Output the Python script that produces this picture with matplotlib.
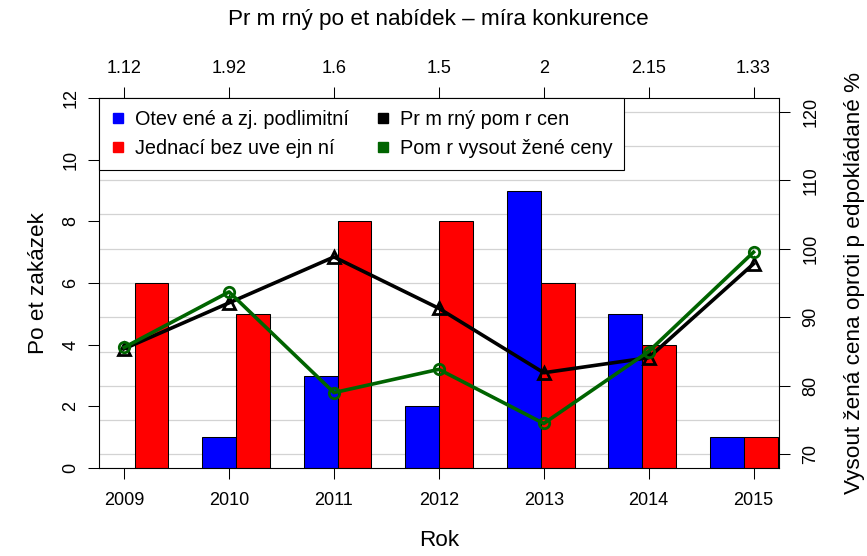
import matplotlib
matplotlib.use('Agg')
import matplotlib.pyplot as plt
from matplotlib.lines import Line2D
import numpy as np

plt.rcParams['font.family'] = ['Liberation Sans', 'DejaVu Sans']

# ---- data ----
years = [2009, 2010, 2011, 2012, 2013, 2014, 2015]
mean_offers = [1.12, 1.92, 1.6, 1.5, 2, 2.15, 1.33]
open_counts = [0, 1, 3, 2, 9, 5, 1]
negotiated_counts = [6, 5, 8, 8, 6, 4, 1]
mean_price_ratio = [85.4, 92.1, 98.8, 91.3, 81.9, 84.1, 97.8]
awarded_price_ratio = [85.6, 93.7, 79.0, 82.4, 74.5, 85.0, 99.5]

series_names = ['Otev ené a zj. podlimitní', 'Jednací bez uve ejn ní',
                'Pr m rný pom r cen', 'Pom r vysout žené ceny']
title_top = 'Pr m rný po et nabídek – míra konkurence'
xlabel = 'Rok'
ylabel_left = 'Po et zakázek'
ylabel_right = 'Vysout žená cena oproti p edpokládané %'

BLUE, RED, BLACK, GREEN = '#0000FF', '#FF0000', '#000000', '#006400'
TICK_FS = 13
LABEL_FS = 16.2
LEGEND_FS = 14.3

W, H = 867, 556
fig = plt.figure(figsize=(W / 100, H / 100), dpi=100)
L, R, T, B = 99, 778.7, 98, 468
rect = [L / W, (H - B) / H, (R - L) / W, (B - T) / H]

# background grid axes (right-axis scale)
ax_grid = fig.add_axes(rect, zorder=0)
ax_grid.set_xlim(0, 1)
ax_grid.set_ylim(68, 122)
for v in np.arange(70, 121, 5):
    ax_grid.axhline(v, color='#d3d3d3', lw=0.9)
ax_grid.axis('off')

# bar axes
ax_bar = fig.add_axes(rect, zorder=1)
ax_bar.patch.set_visible(False)
n = len(years)
idx = np.arange(n)
left_blue = 1 + 3 * idx
ax_bar.bar(left_blue, open_counts, width=1, align='edge', color=BLUE,
           edgecolor='black', linewidth=0.75)
ax_bar.bar(left_blue + 1, negotiated_counts, width=1, align='edge', color=RED,
           edgecolor='black', linewidth=0.75)
ax_bar.set_xlim(0.95, 21.03)
ax_bar.set_ylim(0, 12)
ax_bar.set_xticks([])
ax_bar.set_yticks(range(0, 13, 2))
for lab in ax_bar.get_yticklabels():
    lab.set_rotation(90)
    lab.set_va('center')
ax_bar.tick_params(axis='y', length=8, width=0.75, labelsize=TICK_FS, pad=6)
for s in ax_bar.spines.values():
    s.set_visible(False)
ax_bar.set_ylabel(ylabel_left, fontsize=LABEL_FS)
ax_bar.yaxis.set_label_coords((38 - L) / (R - L), 0.5)
ax_bar.yaxis.label.set_va('center')

# line axes
ax_line = fig.add_axes(rect, zorder=2)
ax_line.patch.set_visible(False)
x = np.arange(1, n + 1)
ax_line.plot(x, mean_price_ratio, color=BLACK, lw=2.6, marker='^', ms=9,
             mfc='none', mew=2)
ax_line.plot(x, awarded_price_ratio, color=GREEN, lw=2.6, marker='o', ms=7.5,
             mfc='none', mew=2)
ax_line.set_xlim(0.76, 7.24)
ax_line.set_ylim(68, 122)
ax_line.yaxis.tick_right()
ax_line.yaxis.set_label_position('right')
ax_line.set_yticks(range(70, 121, 10))
for lab in ax_line.get_yticklabels():
    lab.set_rotation(90)
    lab.set_va('center')
ax_line.set_xticks(x, [str(y) for y in years])
ax_line.tick_params(axis='x', length=8, width=0.75, labelsize=TICK_FS, pad=9)
ax_line.tick_params(axis='y', length=8, width=0.75, labelsize=TICK_FS, pad=9)
for s in ax_line.spines.values():
    s.set_linewidth(0.8)
    s.set_color('black')
ax_line.set_ylabel(ylabel_right, fontsize=LABEL_FS)
ax_line.yaxis.set_label_coords((855 - L) / (R - L), 0.5)
ax_line.yaxis.label.set_va('center')
ax_line.set_xlabel(xlabel, fontsize=LABEL_FS)
ax_line.xaxis.set_label_coords(0.5, (B - 540) / (B - T))
ax_line.xaxis.label.set_va('center')

top = ax_line.secondary_xaxis('top')
top.set_xticks(x, [f'{v:g}' for v in mean_offers])
top.tick_params(length=8, width=0.75, labelsize=TICK_FS, pad=7)
top.spines['top'].set_visible(False)

fig.text((L + R) / 2 / W, 1 - 19 / H, title_top, fontsize=LABEL_FS,
         ha='center', va='center')

handles = [
    Line2D([], [], ls='none', marker='s', ms=6.5, color=BLUE),
    Line2D([], [], ls='none', marker='s', ms=6.5, color=RED),
    Line2D([], [], ls='none', marker='s', ms=6.5, color=BLACK),
    Line2D([], [], ls='none', marker='s', ms=6.5, color=GREEN),
]
leg = ax_line.legend(handles, series_names, ncol=2, loc='upper left',
                     bbox_to_anchor=(0, 1), borderaxespad=0, fontsize=LEGEND_FS,
                     borderpad=0.6, handlelength=0.75, handletextpad=0.45,
                     columnspacing=1.38, labelspacing=0.5, fancybox=False,
                     framealpha=1, edgecolor='black')
leg.get_frame().set_linewidth(0.8)

fig.savefig('out.png', dpi=100)
